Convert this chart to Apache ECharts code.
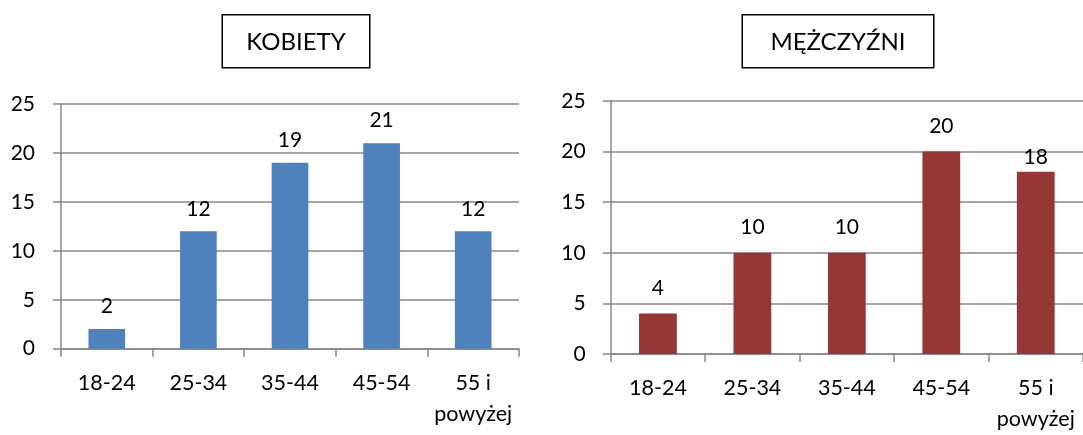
<!DOCTYPE html>
<html>
<head>
<meta charset="utf-8">
<script src="https://cdn.jsdelivr.net/npm/echarts@6/dist/echarts.min.js"></script>
<style>
html,body{margin:0;padding:0;background:#fff;}
#c{width:1083px;height:435px;}
</style>
</head>
<body>
<div id="c"></div>
<script>
const categories = ['18-24', '25-34', '35-44', '45-54', '55 i\npowyżej'];
const kobiety = [2, 12, 19, 21, 12];
const mezczyzni = [4, 10, 10, 20, 18];
const yTicks = [0, 5, 10, 15, 20, 25];
const titles = ['KOBIETY', 'MĘŻCZYŹNI'];

const FONT = 'Lato';
const GRAY = '#868686';
const chart = echarts.init(document.getElementById('c'), null, {renderer: 'canvas'});

function xAxis(gridIndex) {
  return {
    type: 'category', gridIndex, data: categories,
    axisLine: {lineStyle: {color: GRAY, width: 1.5}},
    axisTick: {show: true, length: 8, interval: 0, lineStyle: {color: GRAY, width: 1.5}},
    axisLabel: {color: '#000', fontFamily: FONT, fontSize: 21.5, lineHeight: 31, margin: 19, interval: 0}
  };
}
function yAxis(gridIndex, margin) {
  return {
    type: 'value', gridIndex, min: yTicks[0], max: yTicks[yTicks.length - 1], interval: 5,
    axisLine: {show: true, lineStyle: {color: GRAY, width: 1.5}},
    axisTick: {show: true, length: 8, lineStyle: {color: GRAY, width: 1.5}},
    splitLine: {show: true, lineStyle: {color: GRAY, width: 1.5}},
    axisLabel: {color: '#000', fontFamily: FONT, fontSize: 21, margin: margin}
  };
}
function barSeries(idx, values, color, dist, overrides) {
  return {
    type: 'bar', xAxisIndex: idx, yAxisIndex: idx,
    data: values.map((v, i) => overrides && overrides[i] !== undefined
      ? {value: v, label: {distance: overrides[i]}} : v),
    barWidth: '40%',
    itemStyle: {color: color},
    label: {show: true, position: 'top', distance: dist, color: '#000', fontFamily: FONT, fontSize: 21},
    silent: true
  };
}
function titleBox(x, y, w, h, text) {
  return {
    type: 'group', left: x, top: y,
    children: [
      {type: 'rect', shape: {x: 0, y: 0, width: w, height: h}, style: {fill: '#fff', stroke: '#000', lineWidth: 1.5}},
      {type: 'text', x: w / 2, y: h / 2 + 1, style: {text: text, fill: '#000', font: '24px ' + FONT, textAlign: 'center', textVerticalAlign: 'middle'}}
    ]
  };
}

chart.setOption({
  animation: false,
  grid: [
    {left: 61, top: 104, width: 458, height: 244.7, containLabel: false},
    {left: 610.7, top: 101, width: 475, height: 253.7, containLabel: false}
  ],
  xAxis: [xAxis(0), xAxis(1)],
  yAxis: [yAxis(0, 26), yAxis(1, 25)],
  series: [
    barSeries(0, kobiety, '#4F81BD', 12),
    barSeries(1, mezczyzni, '#953735', 15, {4: 4})
  ],
  graphic: [
    titleBox(221.5, 14, 147.5, 53, titles[0]),
    titleBox(741.5, 14, 191.5, 53, titles[1])
  ]
});
</script>
</body>
</html>
